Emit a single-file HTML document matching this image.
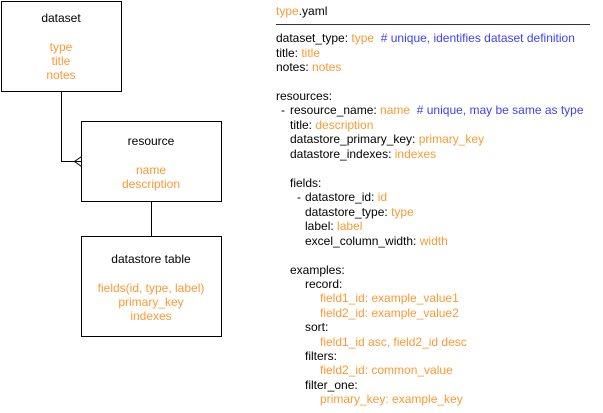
<!DOCTYPE html>
<html><head><meta charset="utf-8"><style>
html,body{margin:0;padding:0;background:#fff;}
svg{display:block;}
text{font-family:"Liberation Sans",Arial,sans-serif;font-size:12px;fill:#000;}
.o{fill:#ff9933;}
.b{fill:#3f3fff;}
</style></head><body>
<svg width="603" height="413" viewBox="0 0 603 413" xmlns="http://www.w3.org/2000/svg">
<g fill="none" stroke="#000" stroke-width="1">
<rect x="1.5" y="1.5" width="120" height="90"/>
<rect x="81.5" y="121.5" width="140" height="80"/>
<rect x="81.5" y="236.5" width="140" height="100"/>
<path d="M61.5 91.5 V161.5 H81.5"/>
<path d="M81.5 156.5 L74.5 161.5 L81.5 166.5"/>
<path d="M151.5 201.5 V236.5"/>
<path d="M276 24.5 H590" stroke="#333"/>
</g>
<g text-anchor="middle">
<text x="61" y="22">dataset</text>
<text x="61" y="51" class="o">type</text>
<text x="61" y="65" class="o">title</text>
<text x="61" y="79" class="o">notes</text>
<text x="151" y="145">resource</text>
<text x="151" y="174" class="o">name</text>
<text x="151" y="188" class="o">description</text>
<text x="151" y="263">datastore table</text>
<text x="151" y="292" class="o">fields(id, type, label)</text>
<text x="151" y="306" class="o">primary_key</text>
<text x="151" y="320" class="o">indexes</text>
</g>
<g>
<text x="276" y="15"><tspan class="o">type</tspan>.yaml</text>
<text x="276" y="42">dataset_type: <tspan class="o">type</tspan><tspan class="b">&#160; # unique, identifies dataset definition</tspan></text>
<text x="276" y="57">title: <tspan class="o">title</tspan></text>
<text x="276" y="71">notes: <tspan class="o">notes</tspan></text>
<text x="276" y="100">resources:</text>
<text x="281" y="114">-</text>
<text x="290" y="114">resource_name: <tspan class="o">name</tspan><tspan class="b">&#160; # unique, may be same as type</tspan></text>
<text x="290" y="129">title: <tspan class="o">description</tspan></text>
<text x="290" y="143">datastore_primary_key: <tspan class="o">primary_key</tspan></text>
<text x="290" y="158">datastore_indexes: <tspan class="o">indexes</tspan></text>
<text x="290" y="187">fields:</text>
<text x="297" y="201">-</text>
<text x="305" y="201">datastore_id: <tspan class="o">id</tspan></text>
<text x="305" y="216">datastore_type: <tspan class="o">type</tspan></text>
<text x="305" y="230">label: <tspan class="o">label</tspan></text>
<text x="305" y="245">excel_column_width: <tspan class="o">width</tspan></text>
<text x="290" y="274">examples:</text>
<text x="305" y="288">record:</text>
<text x="320" y="302" class="o">field1_id: example_value1</text>
<text x="320" y="317" class="o">field2_id: example_value2</text>
<text x="305" y="331">sort:</text>
<text x="320" y="346" class="o">field1_id asc, field2_id desc</text>
<text x="305" y="360">filters:</text>
<text x="320" y="374" class="o">field2_id: common_value</text>
<text x="305" y="389">filter_one:</text>
<text x="320" y="403" class="o">primary_key: example_key</text>
</g>
</svg>
</body></html>
